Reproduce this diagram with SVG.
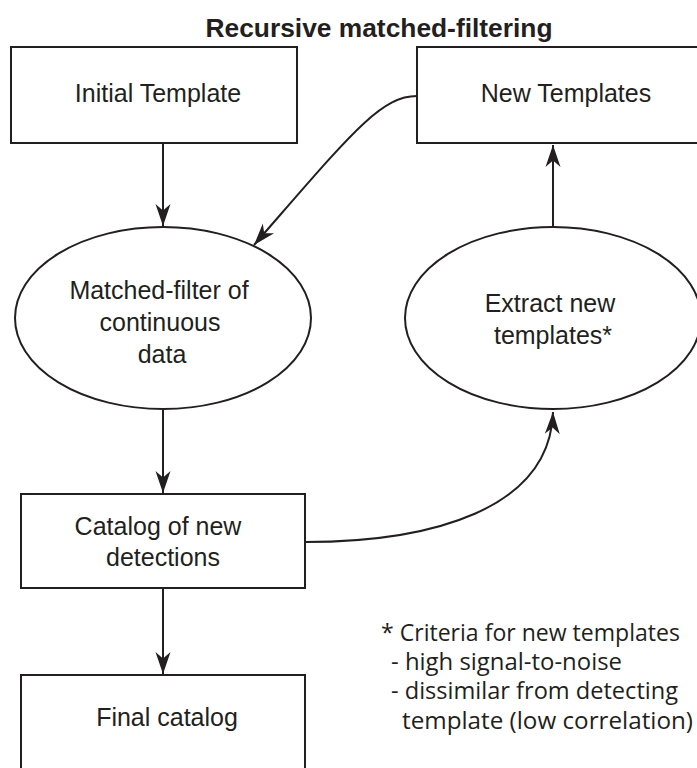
<svg xmlns="http://www.w3.org/2000/svg" width="697" height="768" viewBox="0 0 697 768">
  <style>
    .box { fill: #ffffff; stroke: #231f20; stroke-width: 2; }
    .edge { fill: none; stroke: #231f20; stroke-width: 2; }
    .lbl { font-family: "Liberation Sans", Arial, sans-serif; font-size: 25px; fill: #231f20; text-anchor: middle; }
    .title { font-family: "Liberation Sans", Arial, sans-serif; font-size: 25px; font-weight: bold; fill: #231f20; text-anchor: middle; }
    .note { font-family: "Open Sans", "Noto Sans", sans-serif; font-size: 23px; fill: #231f20; }
  </style>
  <defs>
    <marker id="arrow" viewBox="-23 -8 25 16" refX="0" refY="0" markerWidth="25" markerHeight="16" markerUnits="userSpaceOnUse" orient="auto">
      <path d="M0,0 L-22,-7.5 L-15.5,0 L-22,7.5 Z" fill="#231f20"/>
    </marker>
  </defs>

  <rect width="697" height="768" fill="#ffffff"/>

  <text class="title" x="379" y="37" textLength="347" lengthAdjust="spacingAndGlyphs">Recursive matched-filtering</text>

  <g id="connectors">
    <!-- Initial Template to matched filter -->
    <path class="edge" d="M163,143 L163,226" marker-end="url(#arrow)"/>
    <!-- New Templates back into matched filter -->
    <path class="edge" d="M417,96 C380,96 350,135 254,245" marker-end="url(#arrow)"/>
    <!-- matched filter to catalog -->
    <path class="edge" d="M163,410 L163,493" marker-end="url(#arrow)"/>
    <!-- catalog to extraction -->
    <path class="edge" d="M305,542 C430,542 550,510 553,412" marker-end="url(#arrow)"/>
    <!-- extraction to New Templates -->
    <path class="edge" d="M553,227 L553,145" marker-end="url(#arrow)"/>
    <!-- catalog to final catalog -->
    <path class="edge" d="M163,588 L163,674" marker-end="url(#arrow)"/>
  </g>

  <g id="initial-template">
    <rect class="box" x="11" y="47" width="286" height="96"/>
    <text class="lbl" x="158" y="102">Initial Template</text>
  </g>

  <g id="new-templates">
    <rect class="box" x="417" y="47" width="290" height="96"/>
    <text class="lbl" x="566" y="102">New Templates</text>
  </g>

  <g id="matched-filter">
    <ellipse class="box" cx="163" cy="318" rx="148" ry="91"/>
    <text class="lbl" x="159" y="299">Matched-filter of</text>
    <text class="lbl" x="160" y="331">continuous</text>
    <text class="lbl" x="162" y="363">data</text>
  </g>

  <g id="extract-templates">
    <ellipse class="box" cx="553" cy="318" rx="148" ry="91"/>
    <text class="lbl" x="550" y="312">Extract new</text>
    <text class="lbl" x="553" y="344">templates*</text>
  </g>

  <g id="catalog-new">
    <rect class="box" x="21" y="494" width="284" height="94"/>
    <text class="lbl" x="158" y="535">Catalog of new</text>
    <text class="lbl" x="163" y="566">detections</text>
  </g>

  <g id="final-catalog">
    <rect class="box" x="21" y="675" width="284" height="110"/>
    <text class="lbl" x="167" y="726">Final catalog</text>
  </g>

  <g id="criteria-note">
    <text class="note" x="381" y="641" textLength="299" lengthAdjust="spacingAndGlyphs">* Criteria for new templates</text>
    <text class="note" x="391" y="670" textLength="231" lengthAdjust="spacingAndGlyphs">- high signal-to-noise</text>
    <text class="note" x="391" y="699" textLength="287" lengthAdjust="spacingAndGlyphs">- dissimilar from detecting</text>
    <text class="note" x="402" y="729" textLength="291" lengthAdjust="spacingAndGlyphs">template (low correlation)</text>
  </g>
</svg>
